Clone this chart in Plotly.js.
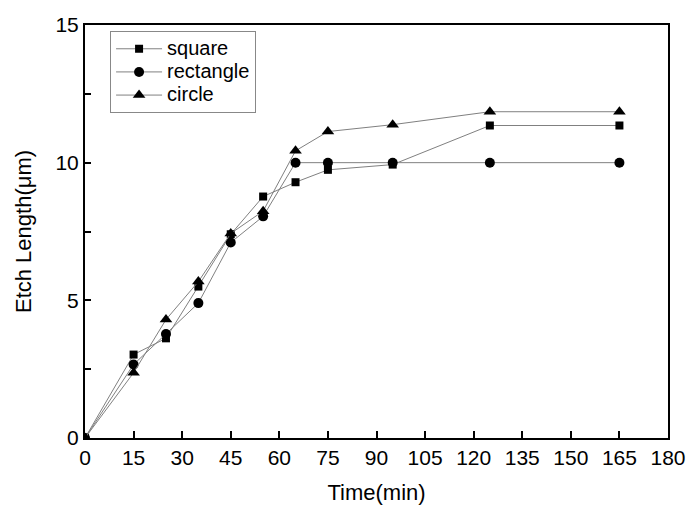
<!DOCTYPE html>
<html>
<head>
<meta charset="utf-8">
<script src="https://cdn.plot.ly/plotly-3.0.1.min.js"></script>
<style>html,body{margin:0;padding:0;background:#fff;}#chart{width:686px;height:506px;}</style>
</head>
<body>
<div id="chart"></div>
<script>
const time = [0, 15, 25, 35, 45, 55, 65, 75, 95, 125, 165];
const squareVals = [0, 3.03, 3.62, 5.50, 7.40, 8.77, 9.29, 9.74, 9.93, 11.35, 11.35];
const rectangleVals = [0, 2.67, 3.78, 4.90, 7.10, 8.05, 10.0, 10.0, 10.0, 10.0, 10.0];
const circleVals = [0, 2.37, 4.30, 5.68, 7.43, 8.24, 10.43, 11.13, 11.38, 11.85, 11.85];
const seriesNames = ['square', 'rectangle', 'circle'];
const xTicks = [0, 15, 30, 45, 60, 75, 90, 105, 120, 135, 150, 165, 180];
const yTicks = [0, 2.5, 5, 7.5, 10, 12.5, 15];
const yTickText = ['0', '', '5', '', '10', '', '15'];

const font = 'Liberation Sans, Arial, sans-serif';
function tr(name, y, sym, size) {
  return {
    x: time, y: y, name: '<span style="font-size:20px">' + name + '</span>',
    type: 'scatter', mode: 'lines+markers',
    line: {color: '#808080', width: 1},
    marker: {symbol: sym, size: size, color: '#000'}
  };
}
const data = [
  tr(seriesNames[0], squareVals, 'square', 8),
  tr(seriesNames[1], rectangleVals, 'circle', 10),
  tr(seriesNames[2], circleVals, 'triangle-up', 11)
];
const layout = {
  width: 686, height: 506,
  margin: {l: 85, r: 18, t: 25, b: 68},
  paper_bgcolor: '#fff', plot_bgcolor: '#fff',
  font: {family: font, size: 21, color: '#000'},
  showlegend: true,
  legend: {
    x: 0.043, y: 0.985, xanchor: 'left', yanchor: 'top',
    bordercolor: '#888', borderwidth: 1, bgcolor: '#fff',
    font: {family: font, size: 15.5, color: '#000'},
    tracegroupgap: 0, itemwidth: 46
  },
  xaxis: {
    range: [0, 180], tickvals: xTicks, ticktext: xTicks.map(String),
    showgrid: false, zeroline: false,
    showline: true, linecolor: '#000', linewidth: 2, mirror: true,
    ticks: 'inside', ticklen: 7, tickwidth: 2, tickcolor: '#000',
    tickfont: {family: font, size: 21},
    title: {text: 'Time(min)', font: {family: font, size: 22}, standoff: 16}
  },
  yaxis: {
    range: [0, 15], tickvals: yTicks, ticktext: yTickText,
    showgrid: false, zeroline: false,
    showline: true, linecolor: '#000', linewidth: 2, mirror: true,
    ticks: 'inside', ticklen: 6, tickwidth: 2, tickcolor: '#000',
    tickfont: {family: font, size: 21},
    title: {text: 'Etch Length(μm)', font: {family: font, size: 22}, standoff: 18}
  }
};
Plotly.newPlot('chart', data, layout, {displayModeBar: false, staticPlot: true});
</script>
</body>
</html>
